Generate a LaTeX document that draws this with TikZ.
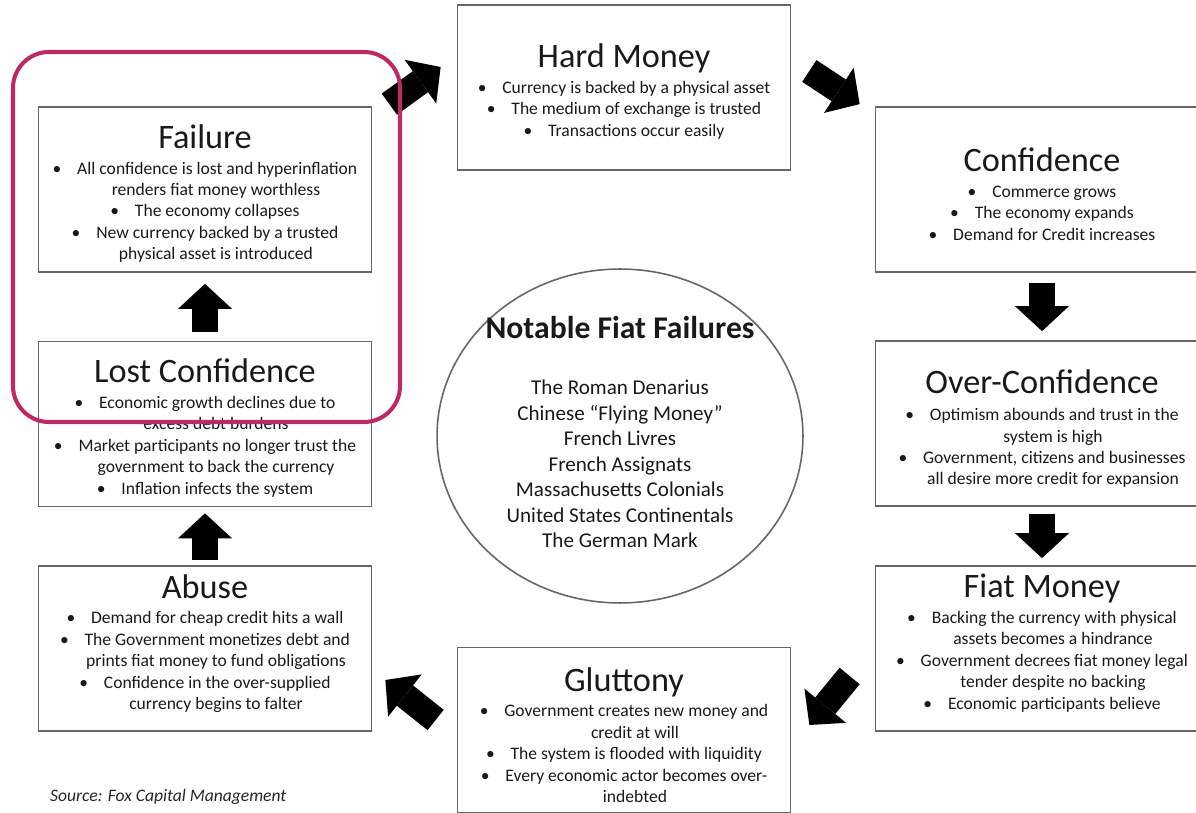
\documentclass[tikz,border=0pt]{standalone}
\usepackage{fontspec}
\setmainfont{Carlito}
\usetikzlibrary{arrows.meta,calc,shapes.geometric}
\definecolor{ringpink}{RGB}{190,40,100}
\newcommand{\bul}{\textbullet\hspace{9pt}}
\newcommand{\cnt}{\hspace*{12.5pt}}
\newcommand{\boxtitle}[1]{{\fontsize{19.5}{22}\selectfont #1}}

\begin{document}
\begin{tikzpicture}[x=0.02cm,y=-0.02cm,
  box/.style={draw=black!60, line width=1pt, minimum width=6.66cm, minimum height=3.3cm},
  txt/.style={inner sep=0pt, align=center, text=black!90, font=\fontsize{10}{12.2}\selectfont},
  blk/.style={line width=0.52cm, -{Triangle[length=0.5cm,width=1.08cm,line width=0pt]}}]
\useasboundingbox (0,0) rectangle (1196,813);
\clip (0,0) rectangle (1196,813);

\node[box] (hard) at (624,87.5) {};
\node[box] (conf) at (1042,189.5) {};
\node[box] (over) at (1042,423.5) {};
\node[box] (fiat) at (1042,648.5) {};
\node[box] (glut) at (624,730) {};
\node[box] (abuse) at (205,648.5) {};
\node[box] (lost) at (205,424) {};
\node[box] (fail) at (205,189.5) {};

\node[txt] (hardtxt) at ($(hard)+(0,4)$) {\boxtitle{Hard Money}\\[2.5pt]
\bul Currency is backed by a physical asset\\
\bul The medium of exchange is trusted\\
\bul Transactions occur easily};

\node[txt] (conftxt) at ($(conf)+(0,4.5)$) {\boxtitle{Confidence}\\[2.5pt]
\bul Commerce grows\\
\bul The economy expands\\
\bul Demand for Credit increases};

\node[txt] (overtxt) at ($(over)+(0,5)$) {\boxtitle{Over-Confidence}\\[3.5pt]
\bul Optimism abounds and trust in the\\
\cnt system is high\\
\bul Government, citizens and businesses\\
\cnt all desire more credit for expansion};

\node[txt] (fiattxt) at ($(fiat)+(0,-5.5)$) {\boxtitle{Fiat Money}\\[2.5pt]
\bul Backing the currency with physical\\
\cnt assets becomes a hindrance\\
\bul Government decrees fiat money legal\\
\cnt tender despite no backing\\
\bul Economic participants believe};

\node[txt] (gluttxt) at ($(glut)+(0,5)$) {\boxtitle{Gluttony}\\[2.5pt]
\bul Government creates new money and\\
\cnt credit at will\\
\bul The system is flooded with liquidity\\
\bul Every economic actor becomes over-\\
\cnt indebted};

\node[txt] (abusetxt) at ($(abuse)+(0,-5)$) {\boxtitle{Abuse}\\[2.5pt]
\bul Demand for cheap credit hits a wall\\
\bul The Government monetizes debt and\\
\cnt prints fiat money to fund obligations\\
\bul Confidence in the over-supplied\\
\cnt currency begins to falter};

\node[txt] (losttxt) at ($(lost)+(0,4)$) {\boxtitle{Lost Confidence}\\[2.5pt]
\bul Economic growth declines due to\\
\cnt excess debt burdens\\
\bul Market participants no longer trust the\\
\cnt government to back the currency\\
\bul Inflation infects the system};

\node[txt] (failtxt) at ($(fail)+(0,4)$) {\boxtitle{Failure}\\[2.5pt]
\bul All confidence is lost and hyperinflation\\
\cnt renders fiat money worthless\\
\bul The economy collapses\\
\bul New currency backed by a trusted\\
\cnt physical asset is introduced};

\node[draw=black!60, line width=0.9pt, ellipse, minimum width=7.32cm, minimum height=6.68cm] (ring) at (620,436) {};
\node[txt, font=\fontsize{12}{14.5}\selectfont] (ringtxt) at ($(ring)+(0,-4)$)
  {{\bfseries\fontsize{18}{20}\selectfont Notable Fiat Failures}\\[17.5pt]
  The Roman Denarius\\
  Chinese “Flying Money”\\
  French Livres\\
  French Assignats\\
  Massachusetts Colonials\\
  United States Continentals\\
  The German Mark};

\node[anchor=west, text=black!85, font=\fontsize{10}{12}\selectfont\itshape] (src) at (44,797)
  {Source: Fox Capital Management};

\draw[blk] ($(fail.north east)+(17,-2)$) -- ($(hard.west)+(-16,-20.5)$);
\draw[blk] ($(hard.east)+(18,-16.5)$) -- ($(conf.north west)+(-15,-2)$);
\draw[blk] ($(conf.south)+(0,10)$) -- ($(over.north)+(0,-9)$);
\draw[blk] ($(over.south)+(0,7)$) -- ($(fiat.north)+(0,-7)$);
\draw[blk] ($(fiat.west)+(-25,27.5)$) -- ($(glut.east)+(18,-5)$);
\draw[blk] ($(glut.west)+(-21,-10)$) -- ($(abuse.east)+(13,31.5)$);
\draw[blk] ($(abuse.north)+(0,-5)$) -- ($(lost.south)+(0,6)$);
\draw[blk] ($(lost.north)+(0,-9)$) -- ($(fail.south)+(0,11)$);

\draw[ringpink, line width=2.3pt, rounded corners=0.72cm] (13,52) rectangle (400,422);
\end{tikzpicture}
\end{document}
